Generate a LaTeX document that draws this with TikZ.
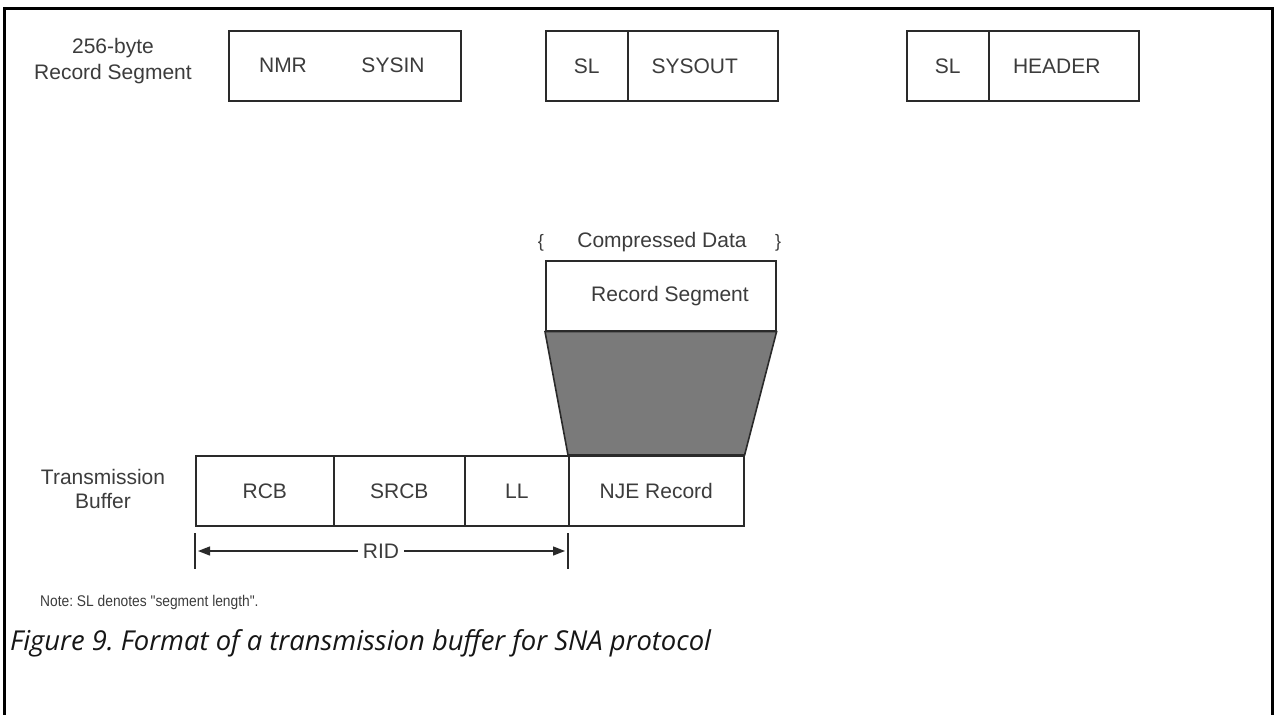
\documentclass[tikz,border=0pt]{standalone}
\usepackage{fontspec}
\setmainfont{Liberation Sans}
\newfontfamily\narrowfont[FakeStretch=0.89]{Liberation Sans}
\newfontfamily\capfont{Open Sans}
\usetikzlibrary{arrows.meta}
\definecolor{linec}{HTML}{2A2A2A}
\definecolor{txt}{HTML}{3C3C3C}
\definecolor{shade}{HTML}{7A7A7A}
\definecolor{capc}{HTML}{161616}
\frenchspacing
\begin{document}
\begin{tikzpicture}[x=1pt,y=-1pt,
  cell/.style={draw=linec, line width=1.6pt, minimum height=70pt, inner sep=0pt,
    anchor=north west, text=txt, font=\fontsize{21}{25}\selectfont},
  lbl/.style={text=txt, font=\fontsize{21}{25}\selectfont, align=center, inner sep=0pt},
  small/.style={text=txt, font=\narrowfont\fontsize{15.5}{18}\selectfont, inner sep=0pt},
  tick/.style={draw=linec, line width=1.3pt},
  arr/.style={draw=linec, line width=1.3pt, -{Triangle[length=12pt,width=9pt]}}]
\useasboundingbox (0,0) rectangle (1275,715);
\fill[white] (0,0) rectangle (1275,715);
% frame
\draw[black, line width=3pt] (4,715) -- (4,8) -- (1272,8) -- (1272,715);
% left labels
\node[lbl] (lab1) at (113,61) {256-byte\\[1pt]Record Segment};
\node[lbl] (lab2) at (103,489) {Transmission\\[-1pt]Buffer};
% top row
\node[cell, minimum width=232pt] (b1) at (228,30) {};
\node[lbl] (nmr) at (283,65) {NMR};
\node[lbl] (sysin) at (393,65) {SYSIN};
\node[cell, minimum width=82pt] (b2a) at (545,30) {SL};
\node[cell, minimum width=150pt, text width=150pt, align=center] (b2b) at (627,30) {\hspace*{-16pt}SYSOUT};
\node[cell, minimum width=82pt] (b3a) at (906,30) {SL};
\node[cell, minimum width=150pt, text width=150pt, align=center] (b3b) at (988,30) {\hspace*{-14pt}HEADER};
% compressed data
\node[lbl] (cd) at (662,242) {Compressed Data};
\node[small, font=\fontsize{18}{20}\selectfont] (lbr) at (541,243) {\{};
\node[small, font=\fontsize{18}{20}\selectfont] (rbr) at (778,243) {\}};
\node[cell, minimum width=230pt] (rs) at (545,260) {};
\node[lbl] (rst) at (670,296) {Record Segment};
% transmission buffer
\node[cell, minimum width=138pt] (rcb) at (195,455) {RCB};
\node[cell, minimum width=131pt] (srcb) at (333,455) {SRCB};
\node[cell, minimum width=104pt] (ll) at (464,455) {LL};
\node[cell, minimum width=175pt] (nje) at (568,455) {NJE Record};
% funnel
\filldraw[fill=shade, draw=linec, line width=1.6pt, line join=miter]
  (rs.south west) -- (rs.south east) -- (nje.north east) -- (nje.north west) -- cycle;
% RID
\coordinate (t1a) at (195,533);
\coordinate (t1b) at (195,569);
\coordinate (t2a) at (568,533);
\coordinate (t2b) at (568,569);
\draw[tick] (t1a) -- (t1b);
\draw[tick] (t2a) -- (t2b);
\node[lbl, inner xsep=5pt] (rid) at (381,551) {RID};
\coordinate (a1) at (198,551);
\coordinate (a2) at (565,551);
\draw[arr] (rid.west) -- (a1);
\draw[arr] (rid.east) -- (a2);
% note & caption
\node[small, anchor=west] (note) at (40,602) {Note: SL denotes \symbol{34}segment length\symbol{34}.};
\node[anchor=west, inner sep=0pt, text=capc, font=\capfont\itshape\fontsize{27.4}{31}\selectfont] (cap) at (10,643) {Figure 9. Format of a transmission buffer for SNA protocol};
\end{tikzpicture}
\end{document}
